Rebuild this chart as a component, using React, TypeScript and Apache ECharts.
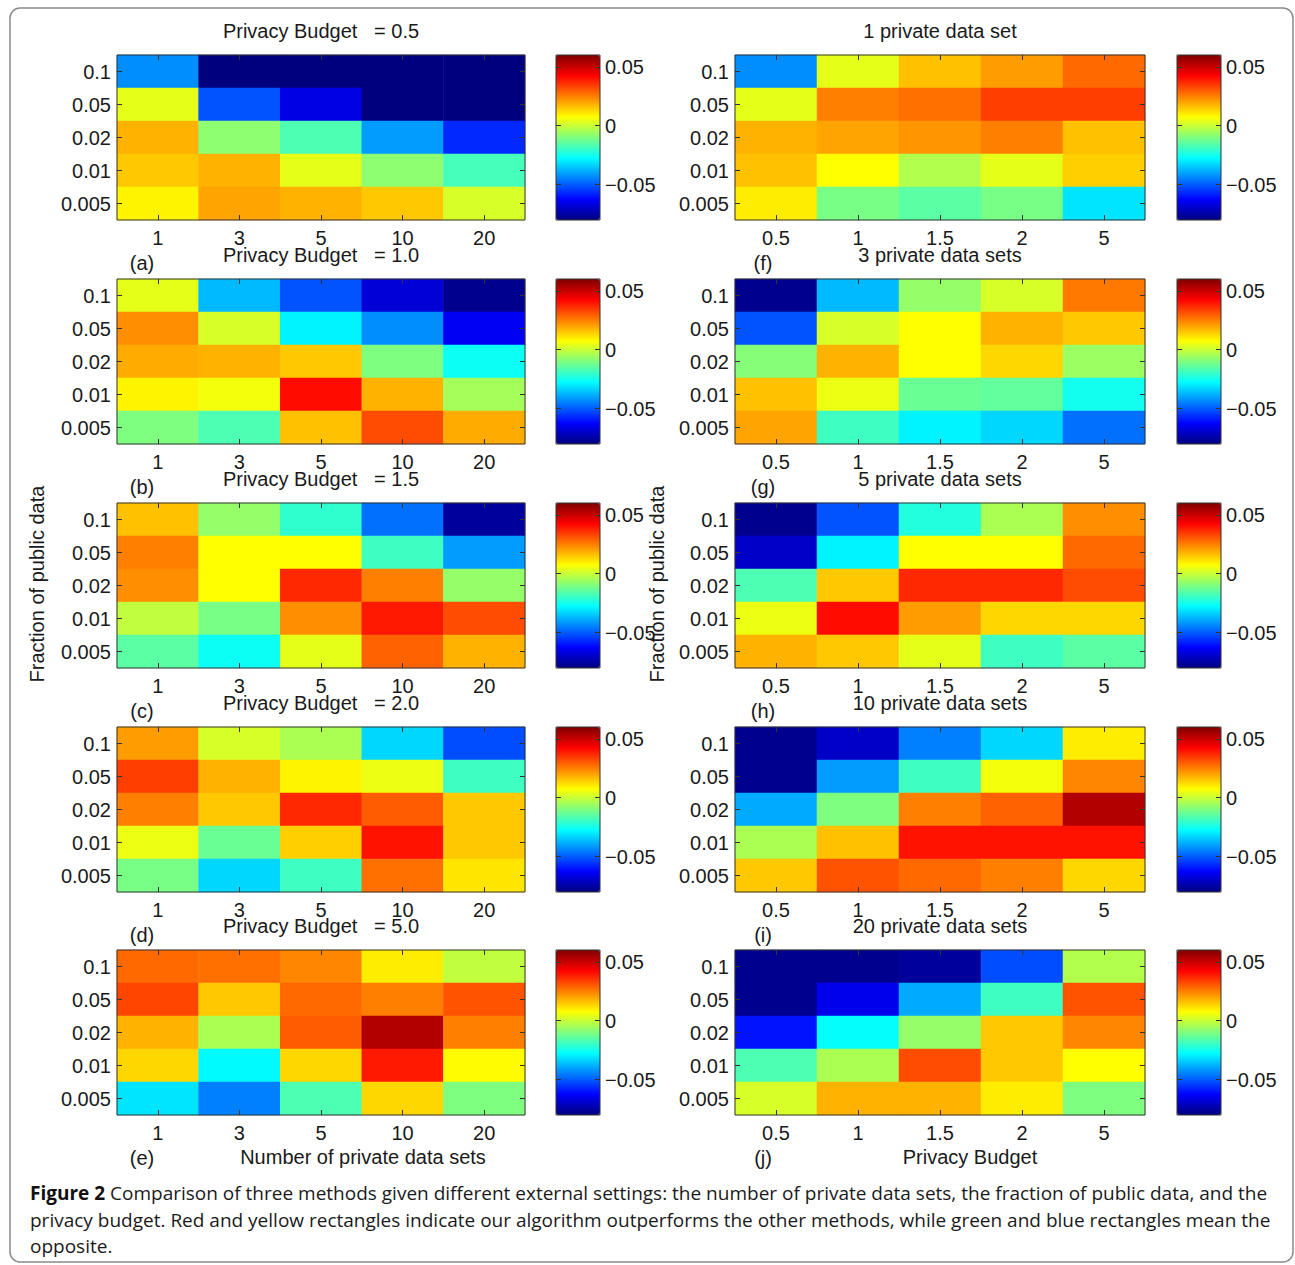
import React, { useEffect, useRef } from 'react';
import * as echarts from 'echarts';

// ---------- data ----------
const numberOfSetsCategories = ['1', '3', '5', '10', '20'];
const privacyBudgetCategories = ['0.5', '1', '1.5', '2', '5'];
const fractionCategories = ['0.1', '0.05', '0.02', '0.01', '0.005']; // top -> bottom
const colorbarTicks = [-0.05, 0, 0.05];
const colorMin = -0.08;
const colorMax = 0.06;

const leftTitles = [
  'Privacy Budget   = 0.5',
  'Privacy Budget   = 1.0',
  'Privacy Budget   = 1.5',
  'Privacy Budget   = 2.0',
  'Privacy Budget   = 5.0',
];
const rightTitles = [
  '1 private data set',
  '3 private data sets',
  '5 private data sets',
  '10 private data sets',
  '20 private data sets',
];
const leftTags = ['(a)', '(b)', '(c)', '(d)', '(e)'];
const rightTags = ['(f)', '(g)', '(h)', '(i)', '(j)'];

// rows: fraction 0.1, 0.05, 0.02, 0.01, 0.005 ; columns: number of private data sets 1,3,5,10,20
const budget05 = [
  [-0.043, -0.08, -0.08, -0.08, -0.08],
  [0.004, -0.051, -0.066, -0.08, -0.08],
  [0.018, -0.008, -0.017, -0.041, -0.057],
  [0.015, 0.018, 0.004, -0.008, -0.018],
  [0.009, 0.02, 0.018, 0.015, 0.002],
];
const budget10 = [
  [0.004, -0.037, -0.051, -0.068, -0.078],
  [0.023, 0.002, -0.029, -0.043, -0.064],
  [0.019, 0.018, 0.015, -0.01, -0.026],
  [0.009, 0.006, 0.041, 0.018, -0.005],
  [-0.01, -0.017, 0.016, 0.032, 0.019],
];
const budget15 = [
  [0.016, -0.007, -0.021, -0.047, -0.076],
  [0.025, 0.0075, 0.0075, -0.019, -0.041],
  [0.023, 0.0075, 0.037, 0.025, -0.007],
  [-0.001, -0.011, 0.023, 0.039, 0.032],
  [-0.015, -0.026, 0.004, 0.029, 0.018],
];
const budget20 = [
  [0.021, 0.002, -0.004, -0.033, -0.052],
  [0.034, 0.018, 0.009, 0.005, -0.019],
  [0.025, 0.015, 0.037, 0.03, 0.015],
  [0.005, -0.013, 0.014, 0.04, 0.015],
  [-0.011, -0.033, -0.019, 0.027, 0.011],
];
const budget50 = [
  [0.028, 0.027, 0.024, 0.01, -0.001],
  [0.033, 0.015, 0.028, 0.025, 0.031],
  [0.018, -0.004, 0.03, 0.053, 0.025],
  [0.013, -0.028, 0.013, 0.039, 0.008],
  [-0.031, -0.045, -0.017, 0.013, -0.01],
];
// rows: fraction ; columns: privacy budget 0.5,1,1.5,2,5
const sets1 = [
  [-0.043, 0.004, 0.016, 0.021, 0.028],
  [0.004, 0.025, 0.027, 0.034, 0.034],
  [0.018, 0.02, 0.022, 0.025, 0.016],
  [0.016, 0.0075, -0.003, 0.004, 0.014],
  [0.01, -0.011, -0.015, -0.011, -0.031],
];
const sets3 = [
  [-0.078, -0.037, -0.007, 0.002, 0.026],
  [-0.051, 0.002, 0.0075, 0.018, 0.015],
  [-0.009, 0.018, 0.0075, 0.013, -0.006],
  [0.016, 0.005, -0.013, -0.014, -0.025],
  [0.02, -0.019, -0.029, -0.033, -0.047],
];
const sets5 = [
  [-0.078, -0.051, -0.023, -0.004, 0.023],
  [-0.07, -0.029, 0.0075, 0.0075, 0.028],
  [-0.017, 0.015, 0.037, 0.037, 0.032],
  [0.005, 0.041, 0.021, 0.013, 0.013],
  [0.018, 0.015, 0.004, -0.019, -0.015],
];
const sets10 = [
  [-0.078, -0.07, -0.045, -0.033, 0.01],
  [-0.078, -0.041, -0.019, 0.006, 0.024],
  [-0.039, -0.01, 0.025, 0.029, 0.053],
  [-0.004, 0.016, 0.04, 0.04, 0.04],
  [0.015, 0.031, 0.028, 0.025, 0.013],
];
const sets20 = [
  [-0.078, -0.078, -0.076, -0.052, -0.003],
  [-0.078, -0.065, -0.039, -0.019, 0.031],
  [-0.06, -0.027, -0.007, 0.015, 0.024],
  [-0.017, -0.004, 0.032, 0.015, 0.0075],
  [0.002, 0.018, 0.018, 0.01, -0.01],
];

const captionLines = [
  'Comparison of three methods given different external settings: the number of private data sets, the fraction of public data, and the',
  'privacy budget. Red and yellow rectangles indicate our algorithm outperforms the other methods, while green and blue rectangles mean the',
  'opposite.',
];

// ---------- styling ----------
const JET = ['#00007F', '#0000FF', '#007FFF', '#00FFFF', '#7FFF7F', '#FFFF00', '#FF7F00', '#FF0000', '#7F0000'];
const TEXT = '#1a1a1a';
const FONT = '"Liberation Sans", Arial, Helvetica, sans-serif';
const CAPTION_FONT = '"Open Sans", "Noto Sans", sans-serif';
const FS = 20;

function txt(x: number, y: number, text: string, extra: any = {}, styleExtra: any = {}) {
  return {
    type: 'text',
    x,
    y,
    silent: true,
    ...extra,
    style: {
      text,
      fill: TEXT,
      fontSize: FS,
      fontFamily: FONT,
      align: 'center',
      verticalAlign: 'middle',
      textAlign: 'center',
      textVerticalAlign: 'middle',
      ...styleExtra,
    },
  };
}

function fmt(v: number) {
  if (Math.abs(v) < 1e-9) return '0';
  return v < 0 ? '\u2212' + Math.abs(v).toFixed(2) : v.toFixed(2);
}

function buildOption() {
  const grid: any[] = [];
  const xAxis: any[] = [];
  const yAxis: any[] = [];
  const series: any[] = [];
  const visualMap: any[] = [];
  const graphic: any[] = [];

  const columns = [
    { left: 117, width: 408, cbLeft: 556, cats: numberOfSetsCategories, titles: leftTitles, panels: [budget05, budget10, budget15, budget20, budget50], tags: leftTags, tagX: 142, titleX: 321 },
    { left: 735, width: 410, cbLeft: 1177, cats: privacyBudgetCategories, titles: rightTitles, panels: [sets1, sets3, sets5, sets10, sets20], tags: rightTags, tagX: 763, titleX: 940 },
  ];
  const rowTops = [55, 279, 503, 727, 950];
  const H = 165;
  const CBW = 44;

  const tick = { show: true, inside: true, alignWithLabel: true, length: 5, lineStyle: { color: '#333', width: 1 } };
  const cbTick = { show: true, inside: true, length: 5, customValues: colorbarTicks, lineStyle: { color: '#333', width: 1 } };
  const labelStyle = { color: TEXT, fontSize: FS, fontFamily: FONT };

  columns.forEach((col) => {
    rowTops.forEach((top, r) => {
      const gi = grid.length;
      grid.push({ left: col.left, top, width: col.width, height: H, show: true, borderColor: '#333', borderWidth: 1, backgroundColor: 'transparent', z: 10 });
      const cbi = gi + 1;
      grid.push({ left: col.cbLeft, top, width: CBW, height: H, show: true, borderColor: '#333', borderWidth: 1, backgroundColor: 'transparent', z: 10 });

      const xi = xAxis.length;
      xAxis.push({ type: 'category', gridIndex: gi, data: col.cats, position: 'bottom', axisLine: { show: false }, axisTick: tick, axisLabel: { ...labelStyle, margin: 8 }, splitLine: { show: false }, z: 11 });
      xAxis.push({ type: 'category', gridIndex: gi, data: col.cats, position: 'top', axisLine: { show: false }, axisTick: tick, axisLabel: { show: false }, splitLine: { show: false }, z: 11 });
      xAxis.push({ type: 'value', gridIndex: cbi, min: 0, max: 1, show: false });

      const yi = yAxis.length;
      yAxis.push({ type: 'category', gridIndex: gi, data: fractionCategories, inverse: true, position: 'left', axisLine: { show: false }, axisTick: tick, axisLabel: { ...labelStyle, margin: 6 }, splitLine: { show: false }, z: 11 });
      yAxis.push({ type: 'category', gridIndex: gi, data: fractionCategories, inverse: true, position: 'right', axisLine: { show: false }, axisTick: tick, axisLabel: { show: false }, splitLine: { show: false }, z: 11 });
      yAxis.push({ type: 'value', gridIndex: cbi, min: colorMin, max: colorMax, position: 'left', axisLine: { show: false }, axisTick: cbTick, axisLabel: { show: false }, splitLine: { show: false }, z: 11 });
      yAxis.push({ type: 'value', gridIndex: cbi, min: colorMin, max: colorMax, position: 'right', axisLine: { show: false }, axisTick: cbTick, axisLabel: { ...labelStyle, margin: 5, customValues: colorbarTicks, formatter: fmt }, splitLine: { show: false }, z: 11 });

      const data: any[] = [];
      col.panels[r].forEach((row, ri) => row.forEach((v, ci) => data.push([ci, ri, v])));
      series.push({ type: 'heatmap', xAxisIndex: xi, yAxisIndex: yi, data, itemStyle: { borderWidth: 0 }, emphasis: { disabled: true }, silent: true, progressive: 0 });

      visualMap.push({
        type: 'continuous', show: true, seriesIndex: series.length - 1, min: colorMin, max: colorMax,
        left: col.cbLeft, top, itemWidth: CBW, itemHeight: H, padding: 0, calculable: false, hoverLink: false,
        inRange: { color: JET },
      });

      graphic.push(txt(col.titleX, top - 24, col.titles[r]));
      graphic.push(txt(col.tagX, top + 208, col.tags[r]));
    });
  });

  graphic.push(txt(363, 1157, 'Number of private data sets'));
  graphic.push(txt(970, 1157, 'Privacy Budget'));
  graphic.push(txt(37, 584, 'Fraction of public data', { rotation: Math.PI / 2 }));
  graphic.push(txt(657, 584, 'Fraction of public data', { rotation: Math.PI / 2 }));

  graphic.push({
    type: 'rect', silent: true, shape: { x: 10, y: 8, width: 1283, height: 1254, r: 10 },
    style: { fill: 'none', stroke: '#8a8a8a', lineWidth: 1.5 },
  });

  const capY = [1193, 1220, 1246];
  captionLines.forEach((line, i) => {
    graphic.push(txt(30, capY[i], i === 0 ? '{b|Figure 2} ' + line : line, {}, {
      align: 'left', textAlign: 'left', fontFamily: CAPTION_FONT, fontSize: 19, fill: '#1a1a1a',
      rich: { b: { fontWeight: 'bold', fontFamily: CAPTION_FONT, fontSize: 19, fill: '#111' } },
    }));
  });

  return {
    animation: false,
    backgroundColor: '#ffffff',
    grid,
    xAxis,
    yAxis,
    visualMap,
    series,
    graphic,
  };
}

export default function App() {
  const ref = useRef<HTMLDivElement>(null);
  useEffect(() => {
    document.body.style.margin = '0';
    const chart = echarts.init(ref.current as HTMLDivElement, null, { renderer: 'svg' });
    chart.setOption(buildOption() as any);
    return () => chart.dispose();
  }, []);
  return <div ref={ref} style={{ width: 1295, height: 1265 }} />;
}
